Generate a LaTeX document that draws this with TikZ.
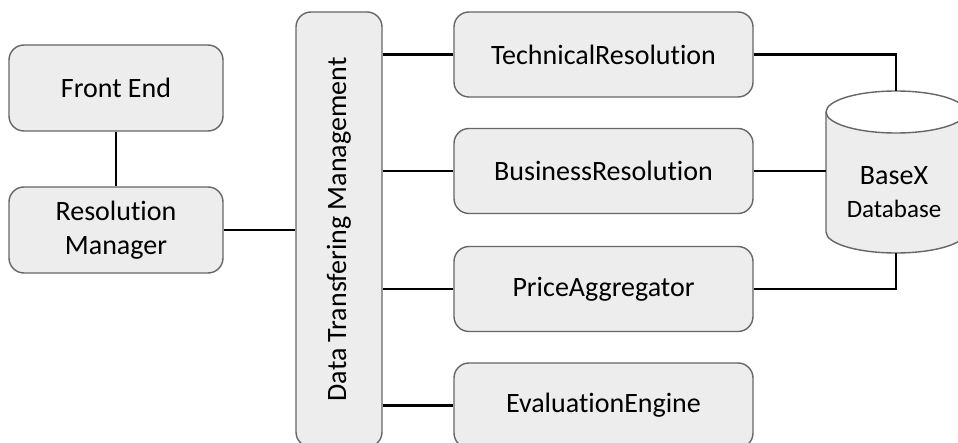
\documentclass[tikz,border=0pt]{standalone}
\usepackage{fontspec}
\setmainfont{Carlito}[RawFeature={-liga;-clig;-dlig;-calt}]

\begin{document}
\begin{tikzpicture}[x=0.5pt,y=-0.5pt,
  box/.style={draw=black!60,line width=0.7pt,fill=black!7,rounded corners=7.5pt,
    align=center,inner sep=0pt,font=\fontsize{14}{17}\selectfont},
  side/.style={box,minimum width=107pt,minimum height=43pt},
  part/.style={box,minimum width=149.5pt,minimum height=42.5pt},
  link/.style={line width=1.4pt}]
\clip (0,0) rectangle (958,443);
\node[side] (front) at (116,88) {Front End};
\node[side] (resman) at (116,230) {Resolution\\Manager};
\node[box,rotate=90,minimum width=217.5pt,minimum height=43pt] (dtm) at (339,229.5) {Data Transfering Management};
\node[part] (tech) at (603.5,54.5) {TechnicalResolution};
\node[part] (busi) at (603.5,171) {BusinessResolution};
\node[part] (price) at (603.5,289) {PriceAggregator};
\node[part] (eval) at (603.5,405.5) {EvaluationEngine};
% cylinder for the database
\fill[black!7] (826,112) -- (826,232) arc[start angle=180,end angle=360,x radius=35pt,y radius=10.5pt] -- (966,112) -- cycle;
\draw[black!60,line width=0.7pt] (826,112) -- (826,232) arc[start angle=180,end angle=360,x radius=35pt,y radius=10.5pt] -- (966,112);
\draw[black!60,line width=0.7pt,fill=white] (896,112) ellipse[x radius=35pt,y radius=10.5pt];
\coordinate (dbtop) at (896,91);
\coordinate (dbleft) at (826,171);
\coordinate (dbbot) at (896,253);
\node[align=center,inner sep=0pt,font=\fontsize{14}{16.5}\selectfont] (db) at (894,192)
  {BaseX\\{\fontsize{12.5}{16.5}\selectfont Database}};
\draw[link] (front) -- (resman);
\draw[link] (resman.east) -- (resman.east -| dtm.north);
\draw[link] (tech.west -| dtm.south) -- (tech.west);
\draw[link] (busi.west -| dtm.south) -- (busi.west);
\draw[link] (price.west -| dtm.south) -- (price.west);
\draw[link] (eval.west -| dtm.south) -- (eval.west);
\draw[link] (tech.east) -| (dbtop);
\draw[link] (busi.east) -- (dbleft);
\draw[link] (price.east) -| (dbbot);
\end{tikzpicture}
\end{document}
